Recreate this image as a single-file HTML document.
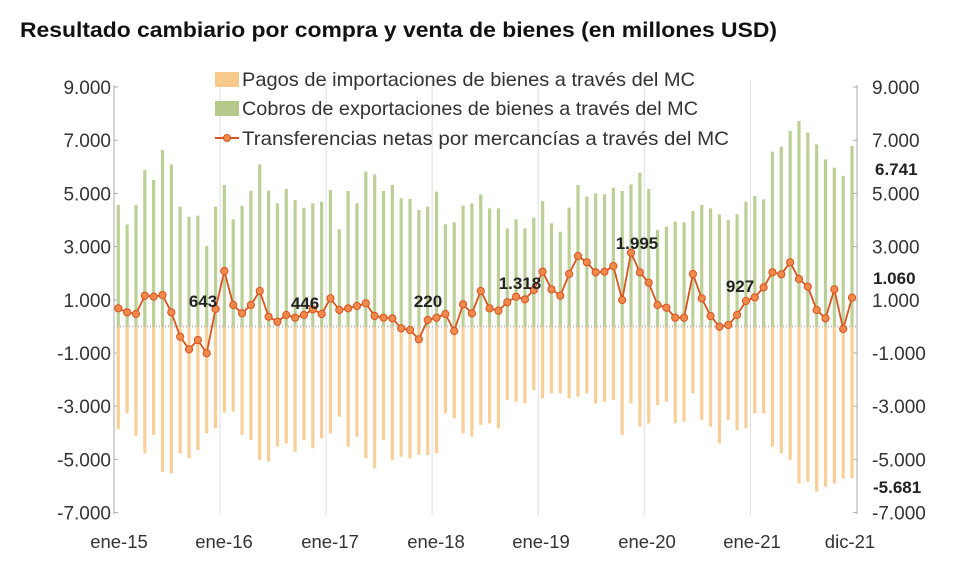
<!DOCTYPE html>
<html><head><meta charset="utf-8"><style>
body{margin:0;background:#fff;width:956px;height:576px;overflow:hidden;font-family:"Liberation Sans",sans-serif}
</style></head><body>
<svg id="c" width="956" height="576" xmlns="http://www.w3.org/2000/svg" font-family="Liberation Sans, sans-serif">
<text x="20" y="37" font-size="21" font-weight="bold" fill="#111" textLength="757" lengthAdjust="spacingAndGlyphs">Resultado cambiario por compra y venta de bienes (en millones USD)</text>
<g id="g"></g>
<g font-size="19.5" fill="#333">
<rect x="215" y="72" width="24" height="15" fill="#f7c98a"/><text x="242" y="86" textLength="453" lengthAdjust="spacingAndGlyphs">Pagos de importaciones de bienes a través del MC</text>
<rect x="215" y="101" width="24" height="15" fill="#b5c98a"/><text x="242" y="115" textLength="456" lengthAdjust="spacingAndGlyphs">Cobros de exportaciones de bienes a través del MC</text>
<line x1="215" y1="138" x2="239" y2="138" stroke="#d9541e" stroke-width="2"/><circle cx="227" cy="138" r="3.5" fill="#f08a4b" stroke="#d9541e"/><text x="242" y="145" textLength="487" lengthAdjust="spacingAndGlyphs">Transferencias netas por mercancías a través del MC</text>
</g>
</svg>
<script>
var G=[435,493,435,330,360,270,313,440,470,467,558,440,375,478,437,392,313,392,430,387,420,443,430,425,390,508,393,430,335,343,393,375,415,417,450,440,395,493,487,437,
430,403,445,445,505,478,505,473,423,490,515,443,375,410,400,403,383,393,373,338,387,510,500,485,487,453,435,445,463,480,463,425,408,418,275,260,213,183,218,253,298,323,348,258];
var O=[1108,1060,1127,1180,1125,1235,1240,1180,1195,1170,1120,1105,1058,1055,1125,1140,1200,1205,1160,1150,1175,1140,1165,1135,1120,1070,1160,1130,1195,1225,1140,1200,1190,1195,1185,1185,1180,1060,1075,1120,
1130,1095,1090,1105,1020,1025,1030,990,1015,1000,1000,1015,1010,1000,1030,1025,1020,1125,1030,1100,1090,1035,1025,1090,1085,1000,1080,1100,1150,1080,1110,1105,1060,1060,1160,1180,1200,1270,1265,1295,1280,1270,1255,1255];
var N=[745,757,762,707,710,705,757,830,868,840,880,747,633,735,760,735,693,770,785,765,773,765,748,762,715,750,745,738,730,768,773,775,805,810,838,780,773,762,813,733,
760,693,745,752,727,710,718,690,635,688,707,642,588,607,637,635,618,720,578,637,668,735,743,773,773,642,715,768,800,795,765,723,712,682,637,643,607,657,680,750,775,688,807,713];
var s='',Z=326.5,X=function(i){return 118.3+i*8.84},Y=function(z){return 60+z/3};
for(var k=1;k<7;k++){var gx=X(k*12)-4.4;s+='<line x1="'+gx+'" y1="80" x2="'+gx+'" y2="515" stroke="#ddd" stroke-width="1"/>';}
s+='<line x1="114" y1="85" x2="114" y2="514" stroke="#aaa"/><line x1="857" y1="85" x2="857" y2="514" stroke="#aaa"/>';
var labs=['9.000','7.000','5.000','3.000','1.000','-1.000','-3.000','-5.000','-7.000'];
for(var k=0;k<9;k++){var ty=87+k*53.2;s+='<line x1="114" y1="'+ty+'" x2="118" y2="'+ty+'" stroke="#aaa"/><line x1="853" y1="'+ty+'" x2="857" y2="'+ty+'" stroke="#aaa"/>';
s+='<text x="111" y="'+(ty+7)+'" font-size="19" fill="#333" text-anchor="end">'+labs[k]+'</text>';
s+='<text x="872" y="'+(ty+7)+'" font-size="19" fill="#333">'+labs[k]+'</text>';}
for(var i=0;i<84;i++){var x=X(i);
s+='<rect x="'+(x-1.6)+'" y="'+Y(G[i])+'" width="3.2" height="'+(Z-Y(G[i]))+'" fill="#bccf96"/>';
s+='<rect x="'+(x-1.6)+'" y="'+Z+'" width="3.2" height="'+(Y(O[i])-Z)+'" fill="#f8cf98"/>';}
s+='<line x1="114" y1="'+Z+'" x2="857" y2="'+Z+'" stroke="#bbb" stroke-width="2" stroke-dasharray="1,2"/>';
var p='';for(var i=0;i<84;i++)p+=(i?'L':'M')+X(i)+','+Y(N[i]);
s+='<path d="'+p+'" fill="none" stroke="#d9541e" stroke-width="1.8"/>';
for(var i=0;i<84;i++)s+='<circle cx="'+X(i)+'" cy="'+Y(N[i])+'" r="3.6" fill="#f08a4b" stroke="#d9541e" stroke-width="1"/>';
var xl=[['ene-15',119],['ene-16',224],['ene-17',330],['ene-18',436],['ene-19',541],['ene-20',647],['ene-21',752],['dic-21',850]];
xl.forEach(function(a){s+='<text x="'+a[1]+'" y="548" font-size="18.5" fill="#333" text-anchor="middle">'+a[0]+'</text>';});
var dl=[['643',203,307],['446',305,309],['220',428,307],['1.318',520,289],['1.995',637,249],['927',740,292],['1.060',873,284],['6.741',875,175],['-5.681',873,493]];
dl.forEach(function(a){s+='<text x="'+a[1]+'" y="'+a[2]+'" font-size="17" font-weight="bold" fill="#222"'+(a[1]<860?' text-anchor="middle"':'')+'>'+a[0]+'</text>';});
document.getElementById('g').innerHTML=s;
</script>
</body></html>
